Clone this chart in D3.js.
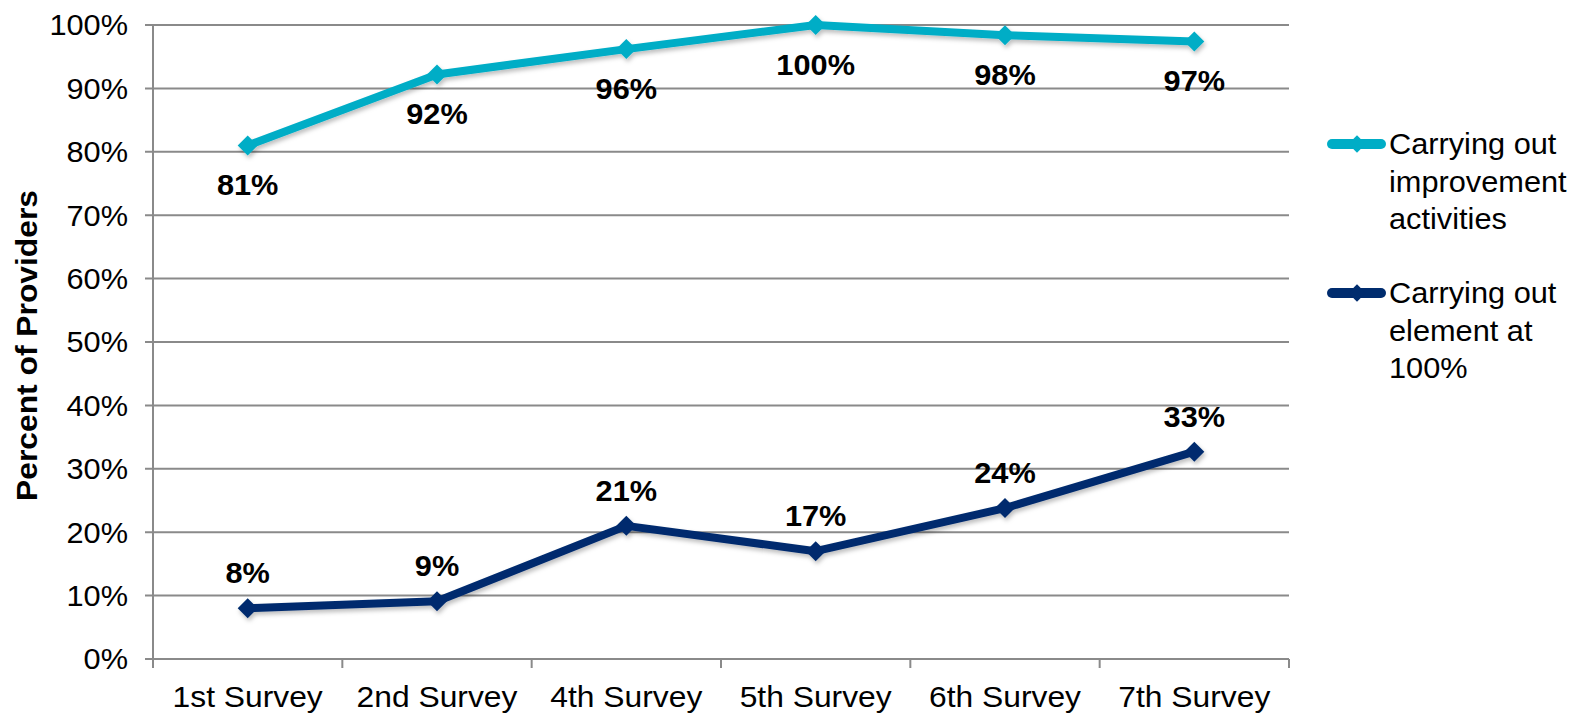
<!DOCTYPE html>
<html><head><meta charset="utf-8">
<script src="https://cdn.jsdelivr.net/npm/d3@7"></script>
<style>body{margin:0;background:#fff}svg{display:block}text{font-family:"Liberation Sans",Arial,sans-serif}</style>
</head><body><svg id="c" width="1577" height="713"></svg>
<script>
const categories = ["1st Survey","2nd Survey","4th Survey","5th Survey","6th Survey","7th Survey"];
const improvement = [81, 92.2, 96.2, 100, 98.4, 97.4];
const element100 = [8, 9.1, 21, 17, 23.8, 32.7];
const yTicks = [0,10,20,30,40,50,60,70,80,90,100];
const seriesNames = [["Carrying out","improvement","activities"],["Carrying out","element at","100%"]];
const colors = ["#00ADC6","#002C6E"];

const SX = 1.06; // horizontal text stretch seen in the reference
const svg = d3.select("#c");
const m = {l:153, r:1289, t:25, b:659};
const x = d3.scaleBand().domain(categories).range([m.l, m.r]);
const y = d3.scaleLinear().domain([0,100]).range([m.b, m.t]);
const grid = "#8a8a8a";

const defs = svg.append("defs");
const f = defs.append("filter").attr("id","sh").attr("x","-20%").attr("y","-20%").attr("width","140%").attr("height","160%");
f.append("feDropShadow").attr("dx",1.5).attr("dy",3).attr("stdDeviation",2).attr("flood-color","#000").attr("flood-opacity",0.25);

// gridlines
svg.append("g").selectAll("line").data(yTicks).join("line")
  .attr("x1", m.l-8).attr("x2", m.r).attr("y1", d=>y(d)).attr("y2", d=>y(d))
  .attr("stroke", grid).attr("stroke-width", 2);
// y axis line
svg.append("line").attr("x1",m.l).attr("x2",m.l).attr("y1",m.t).attr("y2",m.b+9).attr("stroke",grid).attr("stroke-width",2);
// x ticks at band boundaries
const bounds = categories.map(c=>x(c)).concat([m.r]);
svg.append("g").selectAll("line").data(bounds.slice(1)).join("line")
  .attr("x1",d=>d).attr("x2",d=>d).attr("y1",m.b).attr("y2",m.b+9).attr("stroke",grid).attr("stroke-width",2);

const tr = (px,py)=>`translate(${px},${py}) scale(${SX},1)`;

// y tick labels
svg.append("g").selectAll("text").data(yTicks).join("text")
  .attr("transform", d=>tr(128, y(d))).attr("dy","0.36em").attr("text-anchor","end")
  .attr("font-size",29).attr("fill","#000").text(d=>d+"%");
// x labels
svg.append("g").selectAll("text").data(categories).join("text")
  .attr("transform", d=>tr(x(d)+x.bandwidth()/2, 707)).attr("text-anchor","middle")
  .attr("font-size",30).attr("fill","#000").text(d=>d);
// y title
svg.append("text").attr("transform",`translate(37,345.5) rotate(-90) scale(${SX},1)`).attr("text-anchor","middle")
  .attr("font-size",30).attr("font-weight","bold").text("Percent of Providers");

const cx = d=>x(d)+x.bandwidth()/2;
const line = d3.line().x(d=>cx(d.c)).y(d=>y(d.v));

const series = [improvement, element100];
series.forEach((vals,i)=>{
  const pts = vals.map((v,j)=>({c:categories[j], v}));
  const g = svg.append("g").attr("filter","url(#sh)");
  g.append("path").datum(pts).attr("d",line).attr("fill","none").attr("stroke",colors[i]).attr("stroke-width",8).attr("stroke-linejoin","round");
  g.selectAll("path.m").data(pts).join("path").attr("class","m")
    .attr("transform",d=>`translate(${cx(d.c)},${y(d.v)}) rotate(45)`)
    .attr("d", d3.symbol().type(d3.symbolSquare).size(200)).attr("fill",colors[i]);
  svg.append("g").selectAll("text").data(pts).join("text")
    .attr("transform",d=>tr(cx(d.c), y(d.v) + (i===0 ? 50 : -25)))
    .attr("text-anchor","middle").attr("font-size",29).attr("font-weight","bold")
    .text(d=>Math.round(d.v)+"%");
});

// legend
const legY = [144, 293];
seriesNames.forEach((lines,i)=>{
  const g = svg.append("g");
  g.append("line").attr("x1",1332).attr("x2",1381).attr("y1",legY[i]).attr("y2",legY[i])
    .attr("stroke",colors[i]).attr("stroke-width",10).attr("stroke-linecap","round");
  g.append("path").attr("transform",`translate(1357,${legY[i]}) rotate(45)`)
    .attr("d", d3.symbol().type(d3.symbolSquare).size(150)).attr("fill",colors[i]);
  lines.forEach((t,k)=>{
    g.append("text").attr("transform",tr(1389, legY[i]+k*37.5)).attr("dy","0.36em")
      .attr("font-size",29).text(t);
  });
});
</script></body></html>
